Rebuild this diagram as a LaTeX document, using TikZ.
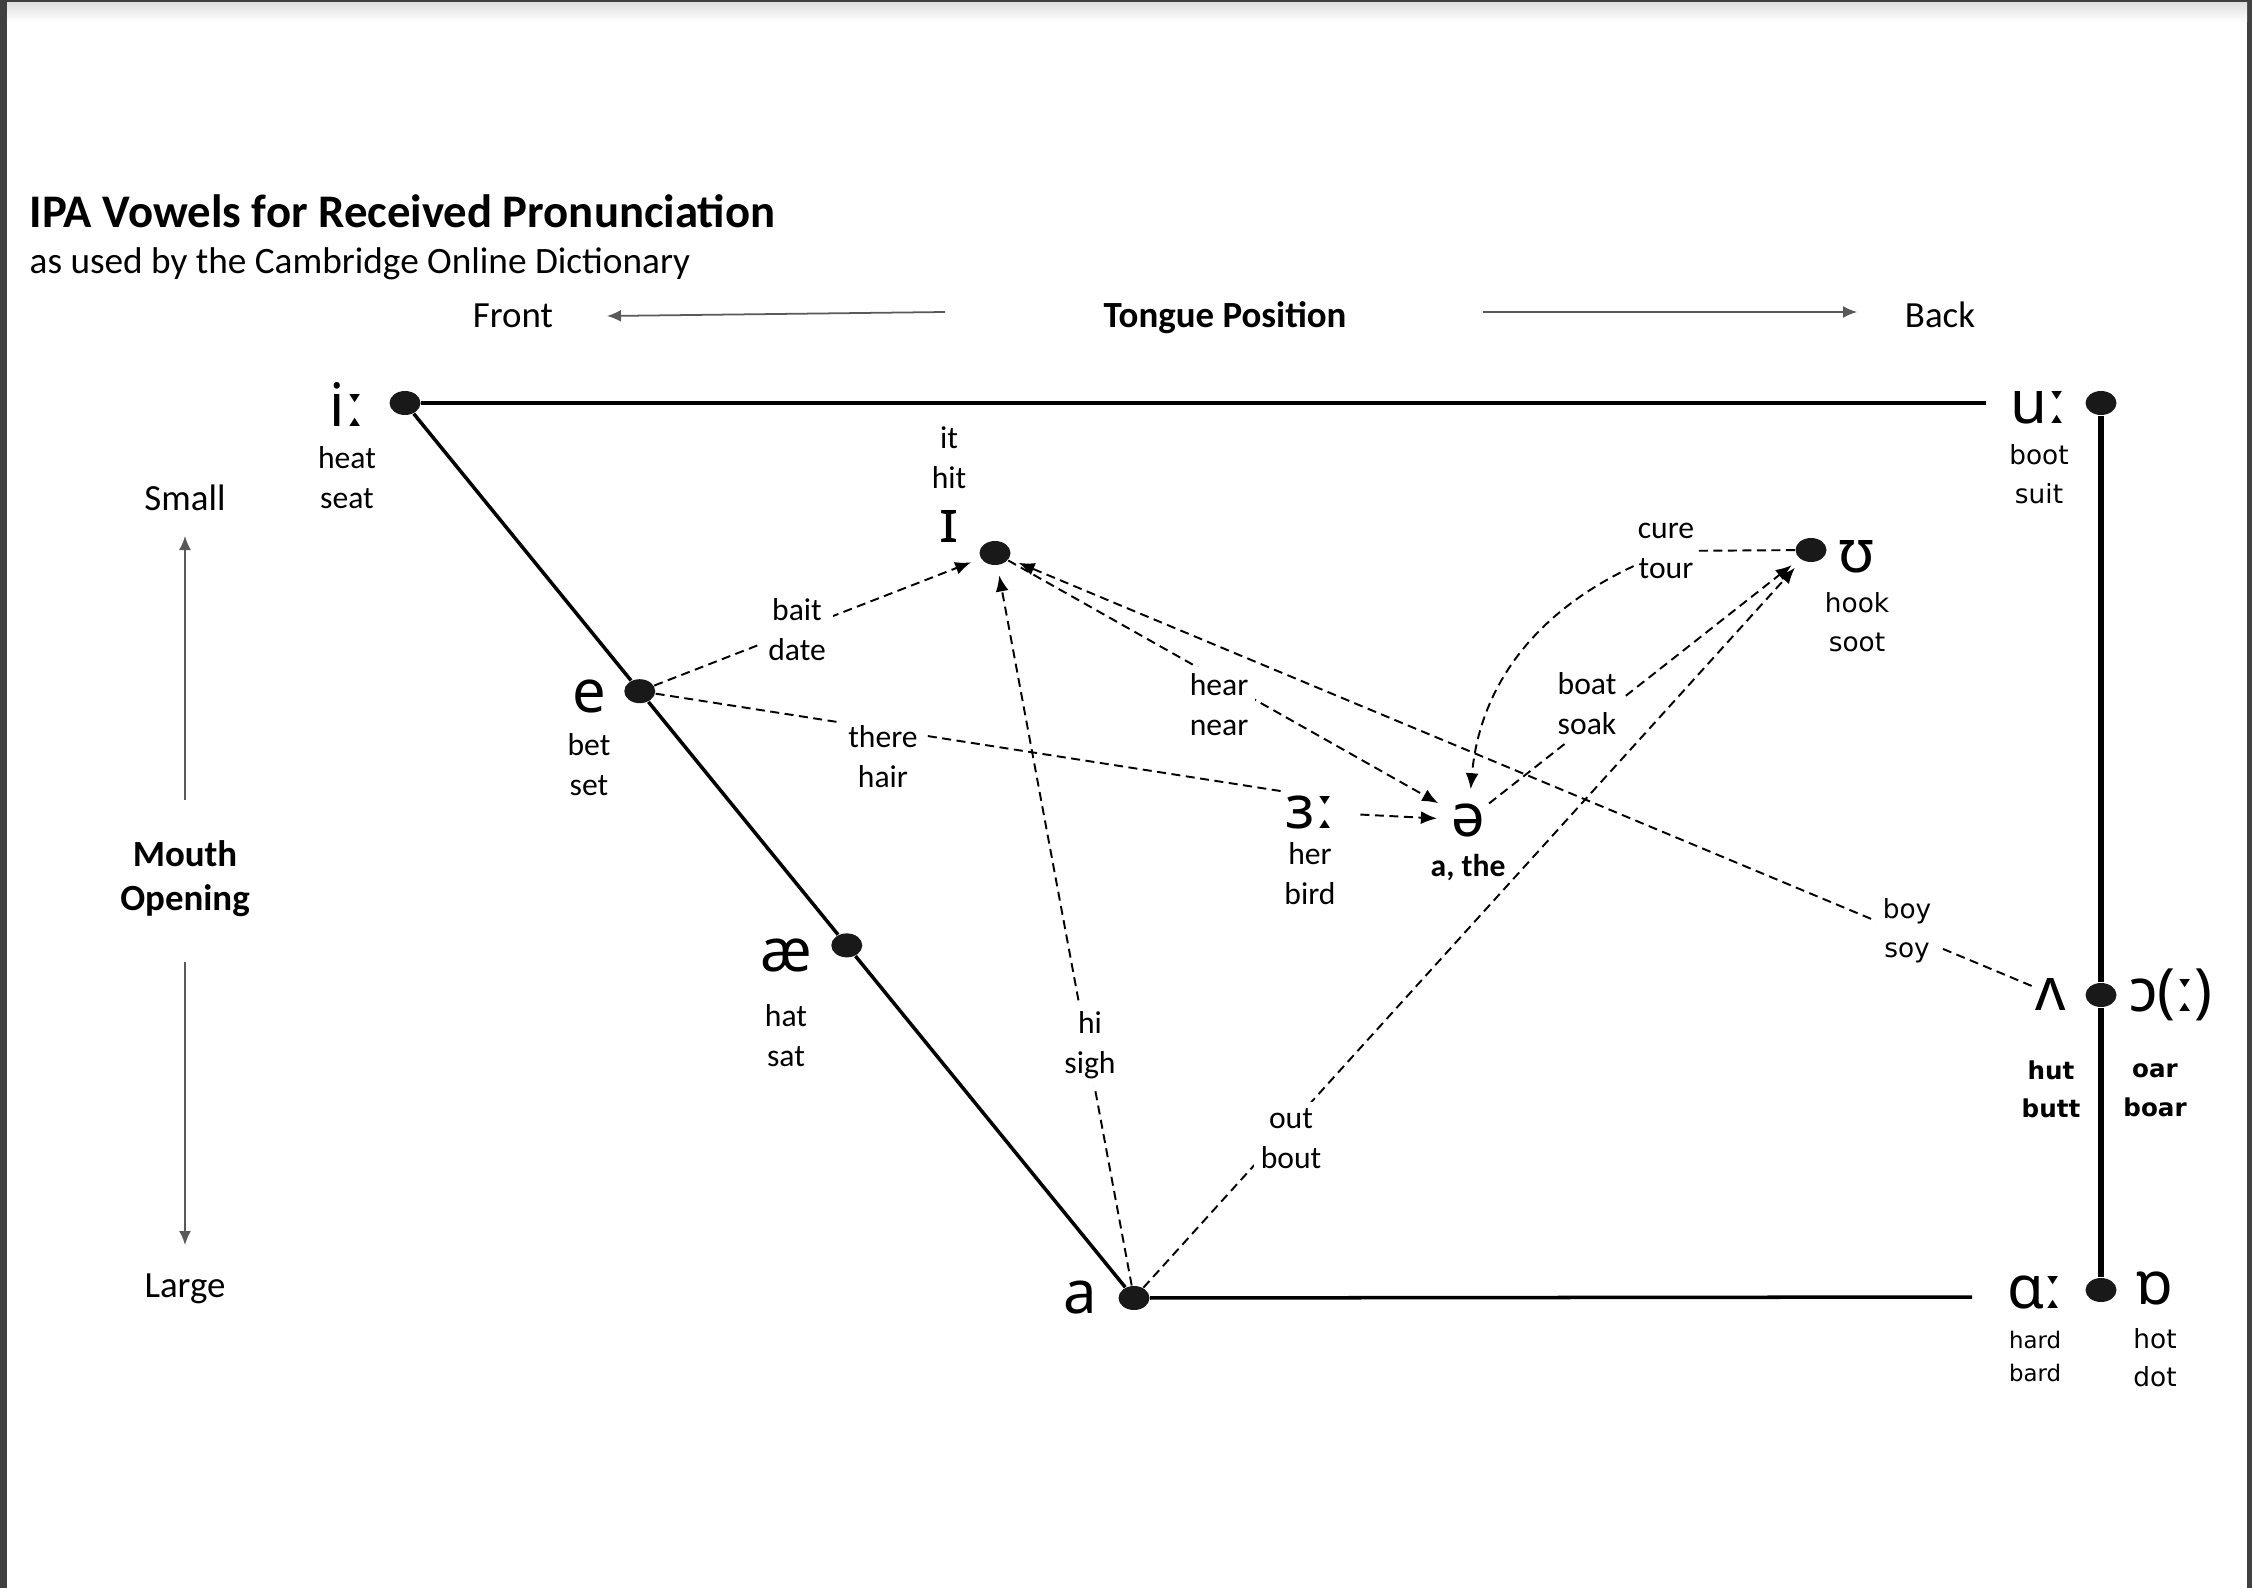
\documentclass[tikz,border=0pt]{standalone}
\usepackage{fontspec}
\setmainfont{Carlito}
\newfontfamily\ipafont{Noto Sans}
\newfontfamily\widefont{DejaVu Sans}
\usepackage{tikz}
\usetikzlibrary{positioning,shapes.geometric,arrows.meta,calc}

\begin{document}
\begin{tikzpicture}[
    vowdot/.style={ellipse, fill=black!90, minimum width=3.1mm, minimum height=2.4mm, inner sep=0pt},
    ipa/.style={font=\ipafont\fontsize{17}{20}\selectfont, inner sep=1pt},
    word/.style={font=\fontsize{9}{11.4}\selectfont, align=center, inner sep=1pt},
    glideword/.style={word, fill=white, inner sep=2pt},
    wideword/.style={font=\widefont\fontsize{7.5}{11}\selectfont, align=center, inner sep=1pt},
    boldword/.style={font=\widefont\bfseries\fontsize{7}{11}\selectfont, align=center, inner sep=1pt},
    axistext/.style={font=\fontsize{10.5}{12.3}\selectfont, align=center, inner sep=0pt},
    frame/.style={line width=1pt},
    glide/.style={line width=0.55pt, dash pattern=on 0.9mm off 0.55mm},
    glidearrow/.style={glide, -{Latex[length=1.6mm,width=1.3mm]}, shorten >=1mm},
    axisarrow/.style={black!65, line width=0.5pt, -{Latex[length=1.4mm,width=1.2mm]}}
]
\useasboundingbox (0,0) rectangle (22.52,-15.88);
% window edge
\fill[black!75] (0,0) rectangle (22.52,-0.03);
\fill[black!75] (0,0) rectangle (0.07,-15.88);
\fill[black!75] (22.47,0) rectangle (22.52,-15.88);
\shade[top color=black!12, bottom color=white] (0.07,-0.03) rectangle (22.47,-0.22);

% title
\node[anchor=base west, inner sep=0pt, font=\bfseries\fontsize{13.3}{15}\selectfont](title) at (0.29,-2.28){IPA Vowels for Received Pronunciation};
\node[anchor=base west, inner sep=0pt, font=\fontsize{10.6}{12}\selectfont](subtitle) at (0.29,-2.74){as used by the Cambridge Online Dictionary};

% axes
\node[axistext, anchor=base](front) at (5.13,-3.28){Front};
\node[axistext, anchor=base, font=\bfseries\fontsize{10.5}{12.3}\selectfont](tongue) at (12.25,-3.28){Tongue Position};
\node[axistext, anchor=base](back) at (19.40,-3.28){Back};
\node[axistext, anchor=base](small) at (1.85,-5.10){Small};
\node[axistext, font=\bfseries\fontsize{10.5}{12.6}\selectfont](mouth) at (1.85,-8.79){Mouth\\Opening};
\node[axistext, anchor=base](large) at (1.85,-12.97){Large};
\coordinate (tongueL) at (9.45,-3.12);
\coordinate (tongueR) at (14.83,-3.12);
\coordinate (frontTip) at (6.07,-3.16);
\coordinate (backTip) at (18.57,-3.12);
\coordinate (mouthUp) at (1.85,-8.00);
\coordinate (mouthDown) at (1.85,-9.62);
\coordinate (smallTip) at (1.85,-5.36);
\coordinate (largeTip) at (1.85,-12.45);
\draw[axisarrow] (tongueL) -- (frontTip);
\draw[axisarrow] (tongueR) -- (backTip);
\draw[axisarrow] (mouthUp) -- (smallTip);
\draw[axisarrow] (mouthDown) -- (largeTip);

% vowel points
\node[vowdot](dI) at (4.05,-4.03){};
\node[vowdot](dU) at (21.01,-4.03){};
\node[vowdot](dA) at (11.34,-12.98){};
\node[vowdot](dE) at ($(dI)!0.322!(dA)$){};
\node[vowdot](dAE) at ($(dI)!0.606!(dA)$){};
\node[vowdot](dIh) at (9.95,-5.53){};
\node[vowdot](dUh) at (18.11,-5.50){};
\node[vowdot](dV) at (21.01,-9.95){};
\node[vowdot](dAa) at (21.01,-12.90){};

% outline
\coordinate (topEnd) at (19.86,-4.03);
\coordinate (botEnd) at (19.72,-12.97);
\draw[frame] (dI) -- (topEnd);
\draw[frame] (dI) -- (dE) -- (dAE) -- (dA);
\draw[frame] (dA) -- (botEnd);
\draw[line width=1.6pt] (dU) -- (dV) -- (dAa);

% symbols
\node[ipa](iiL) at (3.47,-4.04){iː};
\node[ipa](uuL) at (20.39,-4.08){uː};
\node[ipa](eL) at (5.89,-6.96){e};
\node[ipa](aeL) at (7.86,-9.55){æ};
\node[ipa](aL) at (10.80,-12.98){a};
\node[ipa](ihL) at (9.49,-5.26){ɪ};
\node[ipa](uhL) at (18.57,-5.57){ʊ};
\node[ipa](erL) at (13.10,-8.12){ɜː};
\node[ipa](schwa) at (14.68,-8.20){ə};
\node[ipa](vL) at (20.51,-9.94){ʌ};
\node[ipa](oL) at (21.71,-9.95){ɔ(ː)};
\node[ipa](aaL) at (20.35,-12.92){ɑː};
\node[ipa](oshL) at (21.55,-12.88){ɒ};

% example words
\node[word](heat)[below=1.2mm of iiL]{heat\\seat};
\node[wideword](boot)[below=1.2mm of uuL]{boot\\suit};
\node[word](bet)[below=1.2mm of eL]{bet\\set};
\node[word](hat)[below=2.4mm of aeL]{hat\\sat};
\node[word](hit)[above=1.3mm of ihL]{it\\hit};
\node[wideword](hook)[below=1.1mm of uhL]{hook\\soot};
\node[word](bird)[below=0.5mm of erL]{her\\bird};
\node[word, font=\bfseries\fontsize{9}{11}\selectfont](the)[below=0.9mm of schwa]{a, the};
\node[boldword](butt)[below=4.2mm of vL]{hut\\butt};
\node[boldword](boar) at (21.55,-10.90){oar\\boar};
\node[wideword, font=\widefont\fontsize{6.5}{9.5}\selectfont](bard)[below=1.4mm of aaL]{hard\\bard};
\node[wideword](dot)[below=1.5mm of oshL]{hot\\dot};

% diphthong glides
\node[word](cure) at (16.66,-5.51){cure\\tour};
\draw[glidearrow] (dE) -- (dIh);
\draw[glide] (dE) -- (erL.north west);
\draw[glidearrow, shorten <=2.2mm] (erL) -- (schwa);
\draw[glidearrow] (dIh) -- (schwa);
\draw[glidearrow] (dA) -- (dIh);
\draw[glidearrow] (dA) -- (dUh);
\draw[glidearrow] (schwa) -- (dUh);
\draw[glidearrow] (vL) -- (dIh);
\draw[glide] (dUh) -- (cure);
\draw[glidearrow] (cure) to[out=205,in=85] (schwa);

\node[glideword](bait) at (7.97,-6.30){bait\\date};
\node[glideword](there) at (8.83,-7.57){there\\hair};
\node[glideword](hear) at (12.19,-7.05){hear\\near};
\node[glideword](hi) at (10.90,-10.45){hi\\sigh};
\node[glideword](out) at (12.91,-11.39){out\\bout};
\node[glideword](boat) at (15.87,-7.04){boat\\soak};
\node[wideword, fill=white, inner sep=2pt](boy) at (19.07,-9.31){boy\\soy};
\end{tikzpicture}
\end{document}
